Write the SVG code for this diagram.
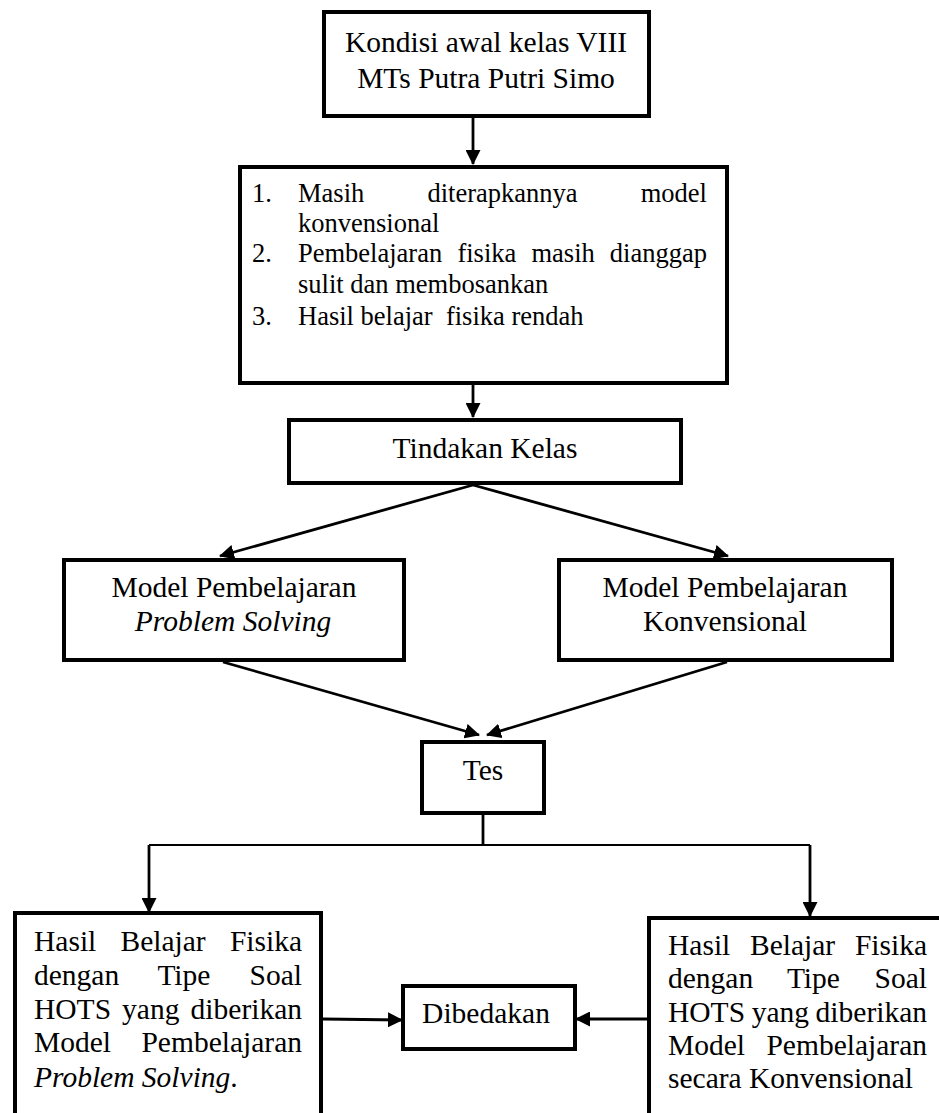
<svg xmlns="http://www.w3.org/2000/svg" width="939" height="1113" viewBox="0 0 939 1113">
<style>
  .box { fill: #ffffff; stroke: #000000; stroke-width: 4; }
  .open { fill: none; stroke: #000000; stroke-width: 4; }
  .t { font-family: "Liberation Serif", "Times New Roman", serif; font-size: 29.5px; fill: #000000; }
  .s { font-family: "Liberation Serif", "Times New Roman", serif; font-size: 26.5px; fill: #000000; }
  .c { text-anchor: middle; }
  .e { text-anchor: end; }
  .i { font-style: italic; }
  .ln { fill: none; stroke: #000000; stroke-width: 2.8; }
  .thin { fill: none; stroke: #000000; stroke-width: 2.2; }
</style>
<defs>
  <marker id="ah" viewBox="0 0 15 15" markerWidth="15" markerHeight="15" refX="14" refY="7.5" orient="auto" markerUnits="userSpaceOnUse">
    <path d="M0,0 L15,7.5 L0,15 z" fill="#000000"/>
  </marker>
</defs>
<rect width="939" height="1113" fill="#ffffff"/>

<g id="connectors">
  <line class="ln" x1="473" y1="118" x2="473" y2="164" marker-end="url(#ah)"/>
  <line class="ln" x1="473" y1="385" x2="473" y2="417" marker-end="url(#ah)"/>
  <line class="ln" x1="473" y1="485" x2="220" y2="556" marker-end="url(#ah)"/>
  <line class="ln" x1="473" y1="485" x2="728" y2="556" marker-end="url(#ah)"/>
  <line class="ln" x1="223" y1="662" x2="479" y2="735" marker-end="url(#ah)"/>
  <line class="ln" x1="727" y1="662" x2="487" y2="735" marker-end="url(#ah)"/>
  <line class="ln" x1="483" y1="815" x2="483" y2="845"/>
  <line class="thin" x1="149" y1="845" x2="810" y2="845"/>
  <line class="ln" x1="149" y1="845" x2="149" y2="912" marker-end="url(#ah)"/>
  <line class="ln" x1="810" y1="845" x2="810" y2="916" marker-end="url(#ah)"/>
  <line class="ln" x1="323" y1="1019" x2="402" y2="1020" marker-end="url(#ah)"/>
  <line class="ln" x1="647" y1="1019" x2="576" y2="1019" marker-end="url(#ah)"/>
</g>

<g id="kondisi">
  <rect class="box" x="324" y="12" width="325" height="104"/>
  <text class="t c" x="486" y="52">Kondisi awal kelas VIII</text>
  <text class="t c" x="486" y="88">MTs Putra Putri Simo</text>
</g>

<g id="masalah">
  <rect class="box" x="240" y="167" width="487" height="216"/>
  <text class="s" x="252" y="202">1.</text>
  <text class="s" x="298" y="202">Masih</text>
  <text class="s" x="427.5" y="202">diterapkannya</text>
  <text class="s e" x="707" y="202">model</text>
  <text class="s" x="298" y="232">konvensional</text>
  <text class="s" x="252" y="262">2.</text>
  <text class="s" x="298" y="262">Pembelajaran</text>
  <text class="s" x="457.4" y="262">fisika</text>
  <text class="s" x="531.5" y="262">masih</text>
  <text class="s e" x="707" y="262">dianggap</text>
  <text class="s" x="298" y="293">sulit dan membosankan</text>
  <text class="s" x="252" y="325">3.</text>
  <text class="s" x="298" y="325" xml:space="preserve">Hasil belajar  fisika rendah</text>
</g>

<g id="tindakan">
  <rect class="box" x="289" y="420" width="392" height="63"/>
  <text class="t c" x="485" y="458">Tindakan Kelas</text>
</g>

<g id="model-ps">
  <rect class="box" x="64" y="560" width="340" height="100"/>
  <text class="t c" x="234" y="597">Model Pembelajaran</text>
  <text class="t c i" x="233" y="631">Problem Solving</text>
</g>

<g id="model-konv">
  <rect class="box" x="559" y="560" width="333" height="100"/>
  <text class="t c" x="725" y="597">Model Pembelajaran</text>
  <text class="t c" x="725" y="631">Konvensional</text>
</g>

<g id="tes">
  <rect class="box" x="422" y="742" width="122" height="71"/>
  <text class="t c" x="483" y="780">Tes</text>
</g>

<g id="hasil-ps">
  <path class="open" d="M15,1113 V913 H321 V1113"/>
  <text class="t" x="34" y="951">Hasil</text>
  <text class="t" x="120.5" y="951">Belajar</text>
  <text class="t e" x="302" y="951">Fisika</text>
  <text class="t" x="34" y="985">dengan</text>
  <text class="t" x="157.4" y="985">Tipe</text>
  <text class="t e" x="302" y="985">Soal</text>
  <text class="t" x="34" y="1019">HOTS</text>
  <text class="t" x="122.1" y="1019">yang</text>
  <text class="t e" x="302" y="1019">diberikan</text>
  <text class="t" x="34" y="1052">Model</text>
  <text class="t e" x="302" y="1052">Pembelajaran</text>
  <text class="t" x="34" y="1087"><tspan class="i">Problem Solving</tspan>.</text>
</g>

<g id="dibedakan">
  <rect class="box" x="403" y="986" width="172" height="63"/>
  <text class="t c" x="486" y="1023">Dibedakan</text>
</g>

<g id="hasil-konv">
  <path class="open" d="M649,1113 V918 H950"/>
  <text class="t" x="668" y="955">Hasil</text>
  <text class="t" x="750" y="955">Belajar</text>
  <text class="t e" x="927" y="955">Fisika</text>
  <text class="t" x="668" y="988">dengan</text>
  <text class="t" x="786.9" y="988">Tipe</text>
  <text class="t e" x="927" y="988">Soal</text>
  <text class="t" x="668" y="1022">HOTS</text>
  <text class="t" x="751.7" y="1022">yang</text>
  <text class="t e" x="927" y="1022">diberikan</text>
  <text class="t" x="668" y="1055">Model</text>
  <text class="t e" x="927" y="1055">Pembelajaran</text>
  <text class="t" x="668" y="1088">secara Konvensional</text>
</g>
</svg>
